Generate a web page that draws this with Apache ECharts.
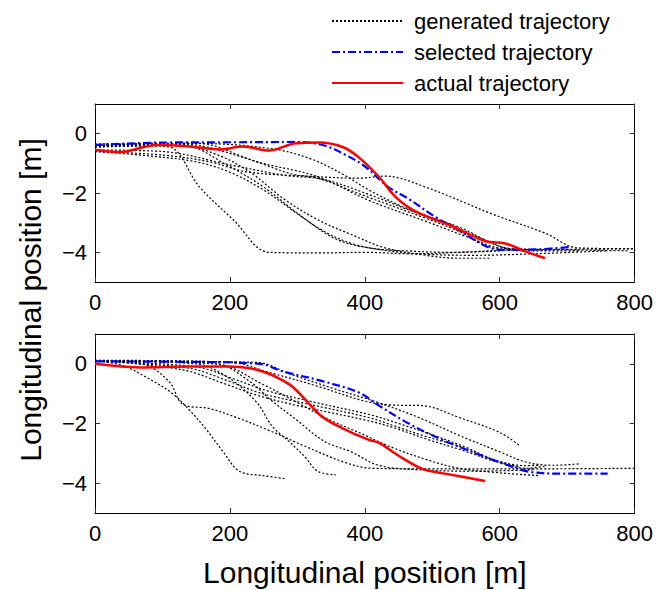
<!DOCTYPE html>
<html>
<head>
<meta charset="utf-8">
<script src="https://cdn.jsdelivr.net/npm/echarts@6/dist/echarts.min.js"></script>
<style>
html,body{margin:0;padding:0;background:#fff;}
#main{width:656px;height:590px;}
</style>
</head>
<body>
<div id="main"></div>
<script>
// tick values
var xTicks = [0, 200, 400, 600, 800];
var yTicks = [-4, -2, 0];

// upper plot
var topGenerated = [
    [[0,-0.45],[60,-0.4],[110,-0.45],[155,-1.8],[205,-2.9],[258,-4.0],[330,-4.02],[400,-4.0],[470,-4.05],[540,-4.0],[620,-3.92],[700,-3.9],[800,-3.88]],
    [[0,-0.6],[80,-0.75],[150,-0.95],[200,-1.3],[250,-1.9],[300,-2.7],[340,-3.3],[380,-3.7],[420,-3.9],[480,-4.05],[560,-4.1],[650,-4.05],[760,-3.95]],
    [[0,-0.4],[120,-0.35],[180,-0.7],[230,-1.3],[280,-2.2],[330,-2.9],[380,-3.4],[430,-3.85],[490,-4.1],[540,-4.2],[588,-4.2]],
    [[0,-0.4],[130,-0.35],[220,-0.8],[290,-1.35],[330,-1.5],[406,-2.15],[490,-2.85],[540,-3.3],[590,-3.85],[650,-3.95],[720,-3.95]],
    [[0,-0.35],[150,-0.32],[240,-0.95],[330,-1.45],[406,-2.25],[490,-2.95],[560,-3.55],[600,-3.85],[660,-3.9]],
    [[0,-0.55],[100,-0.6],[200,-1.05],[280,-1.4],[340,-1.55],[406,-2.05],[480,-2.7],[540,-3.15],[600,-3.8],[640,-3.92]],
    [[0,-0.6],[100,-0.72],[170,-0.95],[226,-1.29],[330,-1.45],[391,-1.5],[430,-1.43],[490,-1.8],[588,-2.7],[667,-3.35],[716,-3.85],[800,-3.88]],
    [[0,-0.4],[150,-0.33],[260,-0.5],[320,-0.85],[370,-1.4],[406,-1.9],[460,-2.5],[520,-3.0],[580,-3.6],[620,-3.9],[700,-3.92],[790,-3.95]],
    [[0,-0.45],[130,-0.4],[199,-1.1],[250,-1.8],[307,-2.8],[357,-3.55],[406,-3.85],[460,-3.95],[530,-4.0],[600,-3.95]]
];
var topSelected = [[0,-0.38],[100,-0.3],[200,-0.29],[300,-0.28],[340,-0.4],[370,-0.7],[400,-1.1],[435,-1.8],[465,-2.2],[504,-2.8],[534,-3.18],[578,-3.78],[603,-3.92],[657,-3.9],[705,-3.82]];
var topActual = [[0,-0.54],[37,-0.62],[91,-0.38],[140,-0.43],[185,-0.53],[219,-0.43],[258,-0.57],[298,-0.32],[332,-0.3],[367,-0.45],[391,-0.8],[421,-1.46],[445,-2.12],[475,-2.62],[529,-3.12],[578,-3.62],[608,-3.7],[637,-3.96],[667,-4.2]];

// lower plot
var bottomGenerated = [
    [[0,0.1],[40,-0.05],[80,-0.5],[115,-1.0],[140,-1.55],[165,-2.2],[190,-2.95],[214,-3.6],[250,-3.75],[283,-3.85]],
    [[0,0.1],[70,0.0],[110,-0.6],[130,-1.35],[170,-1.5],[210,-1.8],[260,-2.25],[310,-2.75],[370,-3.3],[410,-3.5],[500,-3.52],[650,-3.52],[800,-3.5]],
    [[0,0.1],[150,0.0],[200,-0.5],[240,-1.3],[263,-2.1],[290,-2.65],[312,-3.14],[330,-3.6],[357,-3.72]],
    [[0,0.1],[180,0.0],[230,-0.6],[260,-1.2],[300,-1.9],[340,-2.6],[380,-2.95],[420,-3.4],[480,-3.55],[560,-3.6],[650,-3.55]],
    [[0,0.1],[140,-0.15],[196,-0.56],[245,-0.98],[308,-1.31],[406,-1.8],[440,-2.05],[490,-2.43],[539,-2.76],[588,-3.19],[637,-3.41],[660,-3.4]],
    [[0,0.08],[150,-0.1],[205,-0.5],[255,-0.9],[318,-1.25],[410,-1.72],[450,-2.0],[500,-2.38],[550,-2.8],[600,-3.3],[640,-3.5],[670,-3.42]],
    [[0,0.12],[130,-0.2],[190,-0.65],[240,-1.05],[300,-1.4],[400,-1.88],[440,-2.12],[495,-2.55],[545,-2.9],[590,-3.25],[630,-3.45]],
    [[0,0.12],[200,0.05],[260,-0.3],[330,-0.75],[400,-1.25],[440,-1.38],[485,-1.4],[540,-1.8],[600,-2.3],[630,-2.75]],
    [[0,0.1],[240,0.05],[290,-0.35],[350,-0.8],[420,-1.3],[480,-1.8],[540,-2.4],[600,-2.95],[640,-3.3],[680,-3.4],[720,-3.35]],
    [[0,0.1],[180,0.0],[250,-0.7],[300,-1.3],[350,-1.9],[391,-2.3],[440,-2.8],[490,-3.2],[539,-3.5],[598,-3.65],[660,-3.75]]
];
var bottomSelected = [[0,0.08],[120,0.07],[244,0.0],[278,-0.25],[337,-0.58],[391,-0.96],[421,-1.4],[465,-2.0],[514,-2.54],[568,-3.03],[613,-3.41],[647,-3.63],[696,-3.68],[760,-3.68]];
var bottomActual = [[0,0.0],[66,-0.12],[140,-0.09],[196,-0.09],[245,-0.23],[288,-0.69],[313,-1.23],[337,-1.78],[367,-2.16],[406,-2.55],[421,-2.65],[450,-3.08],[485,-3.52],[519,-3.68],[578,-3.93]];

var fontName = '"Liberation Sans", Arial, sans-serif';
var myChart = echarts.init(document.getElementById('main'), null, {renderer: 'svg'});

function minusSign(v) {
    return String(v).replace('-', '\u2212');
}

function makeXAxes(gi, withName) {
    var base = {
        gridIndex: gi,
        type: 'value',
        min: 0,
        max: 800,
        interval: 200,
        axisLine: {show: true, onZero: false, lineStyle: {color: '#000', width: 1}},
        axisTick: {show: true, inside: true, length: 5, lineStyle: {color: '#333'}},
        splitLine: {show: false}
    };
    var bottom = echarts.util.merge({
        position: 'bottom',
        axisLabel: {fontSize: 22, color: '#000', fontFamily: fontName, margin: 9}
    }, base, true);
    if (withName) {
        bottom.name = 'Longitudinal position [m]';
        bottom.nameLocation = 'middle';
        bottom.nameGap = 44;
        bottom.nameTextStyle = {fontSize: 30, color: '#000', fontFamily: fontName};
    }
    var top = echarts.util.merge({
        position: 'top',
        axisLabel: {show: false}
    }, base, true);
    return [bottom, top];
}

function makeYAxes(gi) {
    var base = {
        gridIndex: gi,
        type: 'value',
        min: -5,
        max: 1,
        axisLine: {show: true, onZero: false, lineStyle: {color: '#000', width: 1}},
        axisTick: {show: true, inside: true, length: 5, customValues: yTicks, lineStyle: {color: '#333'}},
        splitLine: {show: false}
    };
    var left = echarts.util.merge({
        position: 'left',
        axisLabel: {fontSize: 22, color: '#000', fontFamily: fontName, margin: 8, customValues: yTicks, formatter: minusSign}
    }, base, true);
    var right = echarts.util.merge({
        position: 'right',
        axisLabel: {show: false}
    }, base, true);
    return [left, right];
}

function lineSeries(name, data, gi, style) {
    return {
        name: name,
        type: 'line',
        xAxisIndex: gi * 2,
        yAxisIndex: gi * 2,
        data: data,
        symbol: 'none',
        smooth: 0.35,
        silent: true,
        lineStyle: style
    };
}

var genStyle = {color: '#000', width: 1.2, type: [2, 2]};
var selStyle = {color: '#0000ff', width: 2.2, type: [8, 3, 2, 3]};
var actStyle = {color: '#ff0000', width: 2.5, type: 'solid'};

var series = [];
var plots = [
    {gen: topGenerated, sel: topSelected, act: topActual},
    {gen: bottomGenerated, sel: bottomSelected, act: bottomActual}
];
for (var g = 0; g < plots.length; g++) {
    for (var i = 0; i < plots[g].gen.length; i++) {
        series.push(lineSeries('generated trajectory', plots[g].gen[i], g, genStyle));
    }
    series.push(lineSeries('selected trajectory', plots[g].sel, g, selStyle));
    series.push(lineSeries('actual trajectory', plots[g].act, g, actStyle));
}

option = {
    backgroundColor: '#fff',
    animation: false,
    color: ['#000', '#0000ff', '#ff0000'],
    legend: {
        orient: 'vertical',
        left: 326,
        top: 5,
        itemWidth: 71,
        itemHeight: 14,
        itemGap: 9,
        selectedMode: false,
        itemStyle: {color: 'transparent', borderWidth: 0, opacity: 0},
        data: ['generated trajectory', 'selected trajectory', 'actual trajectory'],
        textStyle: {fontSize: 22, color: '#000', fontFamily: fontName, padding: [0, 0, 0, 6]}
    },
    grid: [
        {left: 95, right: 19, top: 104, height: 178},
        {left: 95, right: 19, top: 334, height: 179}
    ],
    xAxis: makeXAxes(0, false).concat(makeXAxes(1, true)),
    yAxis: makeYAxes(0).concat(makeYAxes(1)),
    graphic: [{
        type: 'text',
        x: 30,
        y: 300,
        rotation: Math.PI / 2,
        style: {
            text: 'Longitudinal position [m]',
            fontSize: 30,
            fontFamily: fontName,
            fill: '#000',
            textAlign: 'center',
            textVerticalAlign: 'middle'
        }
    }],
    series: series
};
myChart.setOption(option, true);
</script>
</body>
</html>
